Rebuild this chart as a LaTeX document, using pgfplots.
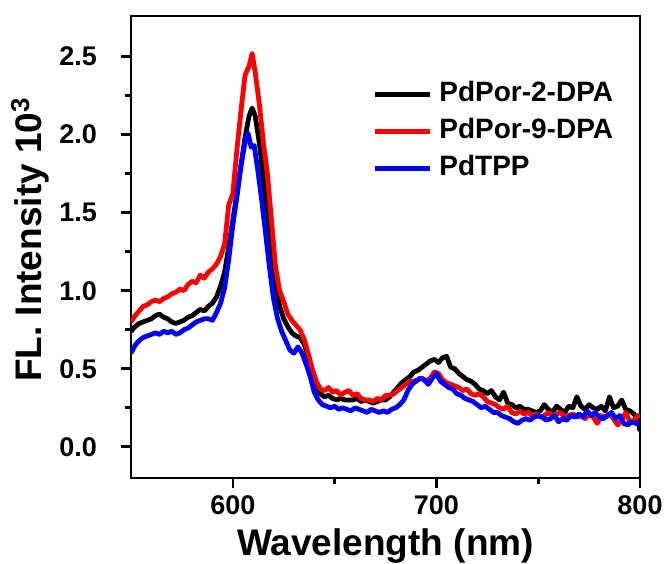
\documentclass[border=0pt]{standalone}
\usepackage{pgfplots}
\pgfplotsset{compat=1.18}
\usepackage{fontspec}
\setmainfont{Liberation Sans}
\definecolor{cblack}{RGB}{0,0,0}
\definecolor{cred}{RGB}{255,0,0}
\definecolor{cblue}{RGB}{0,0,255}
\begin{document}
\begin{tikzpicture}
\path[use as bounding box] (-65.5pt,-42.5pt) rectangle (268.5pt,239pt);
\begin{axis}[
  at={(0,0)}, anchor=south west,
  width=254.5pt, height=231pt, scale only axis,
  xmin=550, xmax=800, ymin=-0.2, ymax=2.76,
  xtick={600,700,800}, ytick={0,0.5,1,1.5,2,2.5},
  minor x tick num=1, minor y tick num=1,
  xtick pos=bottom, ytick pos=left,
  tick align=outside,
  major tick length=5pt, minor tick length=3pt,
  every tick/.style={black, line width=1.3pt},
  axis line style={line width=1.4pt},
  /pgf/number format/assume math mode=true,
  /pgf/number format/.cd, fixed, fixed zerofill, precision=1, /pgfplots/.cd,
  xticklabel={\pgfmathprintnumber[fixed,precision=0]{\tick}},
  tick label style={font=\bfseries\fontsize{13.5}{16}\selectfont},
  yticklabel style={xshift=-8.5pt},
  xticklabel style={yshift=-0.5pt},
  xlabel={Wavelength (nm)},
  ylabel={FL. Intensity 10\textsuperscript{3}},
  label style={font=\bfseries\fontsize{18.5}{22}\selectfont},
  xlabel style={at={(axis description cs:0.5,-0.168)}, anchor=base},
  ylabel style={at={(axis description cs:-0.198,0.516)}, anchor=center, rotate=0},
  legend style={draw=none, fill=none, at={(0.462,0.868)}, anchor=north west,
    font=\bfseries\fontsize{14}{16}\selectfont,
    nodes={inner xsep=3.5pt, inner ysep=0pt, text height=10.2pt, text depth=3pt},
    row sep=5.3pt},
  legend cell align=left,
  legend image code/.code={\draw[#1, line width=2.4pt] (0pt,0pt) -- (27.5pt,0pt);},
  every axis plot/.append style={line width=2.4pt, line join=round},
]
\addplot[cblack] coordinates {
(550,0.74)(552,0.77)(554,0.79)(556,0.80)(558,0.81)(560,0.82)(562,0.84)(564,0.85)(566,0.83)(568,0.82)
(570,0.80)(572,0.79)(574,0.80)(576,0.81)(578,0.83)(580,0.84)(582,0.86)(584,0.88)(586,0.87)(588,0.90)
(590,0.92)(592,0.96)(594,1.03)(596,1.12)(598,1.28)(600,1.45)(602,1.62)(604,1.80)(606,1.98)(608,2.12)
(609.5,2.17)(611,2.12)(613,1.95)(615,1.72)(617,1.50)(619,1.25)(621,1.05)(623,0.90)(625,0.82)(627,0.77)
(629,0.73)(631,0.71)(633,0.70)(635,0.66)(637,0.58)(639,0.49)(641,0.40)(643,0.34)(645,0.32)(647,0.33)
(649,0.31)(651,0.30)(653,0.31)(655,0.30)(657,0.30)(659,0.30)(661,0.31)(663,0.29)(665,0.30)(667,0.29)
(669,0.28)(671,0.29)(673,0.30)(675,0.30)(677,0.32)(679,0.35)(681,0.38)(683,0.41)(685,0.43)(687,0.45)
(689,0.48)(691,0.49)(693,0.51)(695,0.53)(697,0.55)(699,0.56)(701,0.54)(703,0.57)(705,0.58)(707,0.51)
(709,0.50)(711,0.47)(713,0.45)(715,0.43)(717,0.42)(719,0.40)(721,0.37)(723,0.36)(725,0.34)(727,0.36)
(729,0.32)(731,0.30)(733,0.35)(735,0.28)(737,0.27)(739,0.25)(741,0.26)(743,0.24)(745,0.24)(747,0.23)
(749,0.22)(751,0.23)(753,0.27)(755,0.24)(757,0.22)(759,0.26)(761,0.24)(763,0.22)(765,0.26)(767,0.25)
(769,0.32)(771,0.26)(773,0.24)(775,0.27)(777,0.25)(779,0.24)(781,0.26)(783,0.23)(785,0.32)(787,0.25)
(789,0.26)(791,0.30)(793,0.24)(795,0.23)(797,0.21)(799,0.18)(800,0.10)
};
\addlegendentry{PdPor-2-DPA}
\addplot[cred] coordinates {
(550,0.80)(552,0.84)(554,0.87)(556,0.90)(558,0.91)(560,0.93)(562,0.94)(564,0.93)(566,0.95)(568,0.96)
(570,0.98)(572,0.99)(574,1.01)(576,1.00)(578,1.04)(580,1.06)(582,1.05)(584,1.10)(586,1.08)(588,1.12)
(590,1.14)(592,1.17)(594,1.22)(596,1.30)(598,1.55)(600,1.62)(602,1.90)(604,2.15)(606,2.38)(608,2.44)
(609.5,2.52)(611,2.40)(613,2.20)(615,1.95)(617,1.75)(619,1.45)(621,1.15)(623,1.00)(625,0.93)(627,0.85)
(629,0.81)(631,0.78)(633,0.75)(635,0.69)(637,0.60)(639,0.50)(641,0.42)(643,0.37)(645,0.36)(647,0.38)
(649,0.35)(651,0.36)(653,0.33)(655,0.35)(657,0.36)(659,0.33)(661,0.34)(663,0.31)(665,0.30)(667,0.30)
(669,0.29)(671,0.31)(673,0.30)(675,0.33)(677,0.33)(679,0.34)(681,0.36)(683,0.38)(685,0.40)(687,0.42)
(689,0.42)(691,0.43)(693,0.44)(695,0.42)(697,0.44)(699,0.48)(701,0.47)(703,0.43)(705,0.41)(707,0.40)
(709,0.39)(711,0.38)(713,0.36)(715,0.37)(717,0.34)(719,0.33)(721,0.34)(723,0.32)(725,0.29)(727,0.28)
(729,0.27)(731,0.25)(733,0.24)(735,0.26)(737,0.22)(739,0.21)(741,0.23)(743,0.21)(745,0.22)(747,0.20)
(749,0.21)(751,0.19)(753,0.20)(755,0.22)(757,0.20)(759,0.21)(761,0.22)(763,0.19)(765,0.20)(767,0.21)
(769,0.19)(771,0.20)(773,0.18)(775,0.21)(777,0.19)(779,0.15)(781,0.20)(783,0.19)(785,0.21)(787,0.18)
(789,0.14)(791,0.17)(793,0.22)(795,0.16)(797,0.17)(799,0.20)(800,0.19)
};
\addlegendentry{PdPor-9-DPA}
\addplot[cblue] coordinates {
(550,0.60)(552,0.65)(554,0.68)(556,0.70)(558,0.71)(560,0.72)(562,0.73)(564,0.72)(566,0.74)(568,0.73)
(570,0.74)(572,0.72)(574,0.73)(576,0.75)(578,0.76)(580,0.78)(582,0.80)(584,0.81)(586,0.82)(588,0.82)
(590,0.81)(592,0.86)(594,0.92)(596,1.02)(598,1.20)(600,1.42)(602,1.60)(604,1.80)(606,1.95)(607.5,2.01)
(609,1.92)(610.5,1.93)(612,1.80)(614,1.60)(616,1.38)(618,1.15)(620,0.95)(622,0.82)(624,0.74)(626,0.68)
(628,0.62)(630,0.60)(632,0.64)(634,0.60)(636,0.53)(638,0.45)(640,0.35)(642,0.30)(644,0.27)(646,0.26)
(648,0.25)(650,0.26)(652,0.24)(654,0.25)(656,0.24)(658,0.23)(660,0.25)(662,0.24)(664,0.23)(666,0.22)
(668,0.24)(670,0.23)(672,0.22)(674,0.23)(676,0.22)(678,0.24)(680,0.25)(682,0.27)(684,0.30)(686,0.36)
(688,0.40)(690,0.42)(692,0.44)(694,0.43)(696,0.40)(698,0.44)(700,0.47)(702,0.42)(704,0.40)(706,0.38)
(708,0.37)(710,0.34)(712,0.33)(714,0.31)(716,0.30)(718,0.29)(720,0.27)(722,0.25)(724,0.26)(726,0.24)
(728,0.22)(730,0.22)(732,0.20)(734,0.19)(736,0.18)(738,0.16)(740,0.15)(742,0.17)(744,0.18)(746,0.17)
(748,0.19)(750,0.20)(752,0.19)(754,0.17)(756,0.18)(758,0.20)(760,0.16)(762,0.18)(764,0.17)(766,0.20)
(768,0.19)(770,0.21)(772,0.19)(774,0.23)(776,0.20)(778,0.22)(780,0.19)(782,0.18)(784,0.20)(786,0.22)
(788,0.18)(790,0.20)(792,0.15)(794,0.14)(796,0.16)(798,0.15)(800,0.14)
};
\addlegendentry{PdTPP}
\end{axis}
\end{tikzpicture}
\end{document}
